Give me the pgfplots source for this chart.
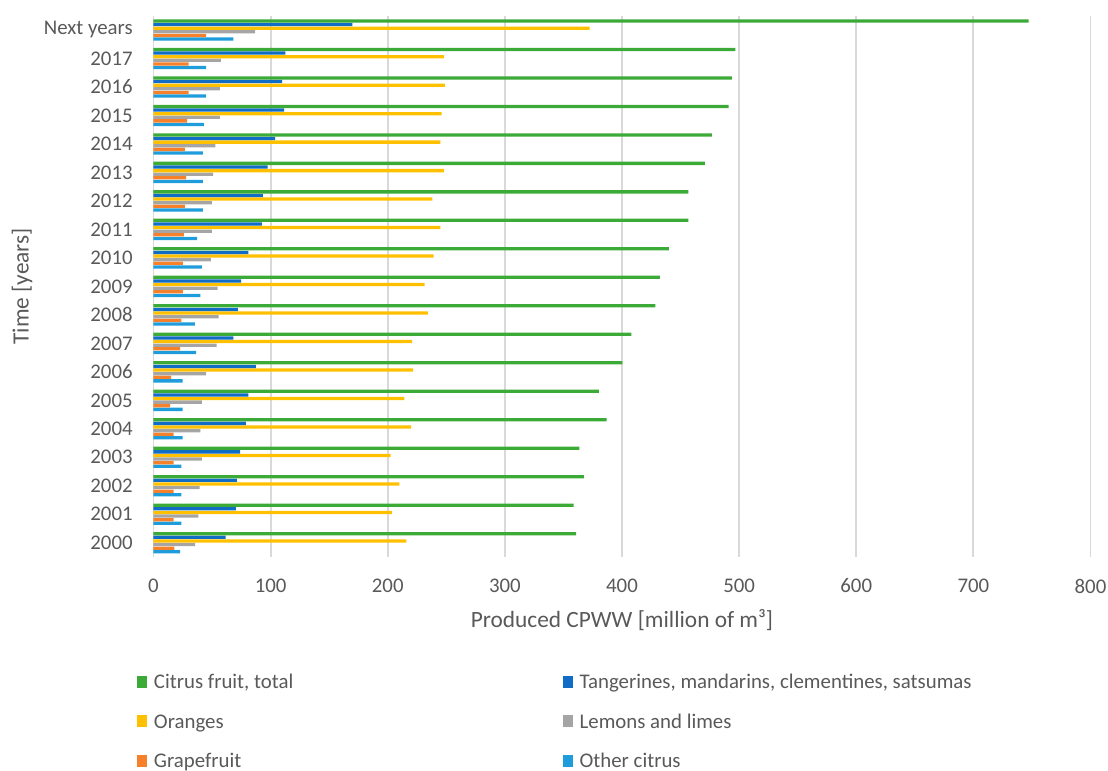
\documentclass[border=0pt]{standalone}
\usepackage{fontspec}
\setmainfont{Carlito}
\usepackage{pgfplots}
\pgfplotsset{compat=1.18}
\usepackage{pgfplotstable}
\definecolor{ctotal}{RGB}{60,170,55}
\definecolor{ctang}{RGB}{16,108,196}
\definecolor{corange}{RGB}{255,192,0}
\definecolor{clemon}{RGB}{165,165,165}
\definecolor{cgrape}{RGB}{247,129,42}
\definecolor{cother}{RGB}{30,156,219}
\definecolor{textgray}{RGB}{89,89,89}
\definecolor{gridgray}{RGB}{217,217,217}
\pgfplotstableread{
y total tang orange lemon grape other
0 360.8 61.5 216.0 35.6 17.9 22.8
1 358.8 70.3 203.5 38.4 17.1 23.9
2 367.4 71.2 210.0 39.3 17.1 23.9
3 363.7 74.0 202.4 41.3 17.1 23.9
4 386.8 78.9 220.0 40.1 17.1 24.8
5 380.2 80.9 214.1 41.3 14.2 24.8
6 400.4 87.4 221.7 45.0 15.1 24.8
7 408.1 68.3 220.9 53.8 22.8 36.4
8 428.4 72.0 234.3 55.5 23.9 35.3
9 432.3 74.9 231.4 54.7 25.0 40.1
10 440.0 80.9 239.1 48.9 25.0 41.3
11 456.6 92.5 245.0 49.8 25.9 37.3
12 456.6 93.4 238.0 49.8 26.8 42.1
13 470.8 97.4 248.0 51.0 27.9 42.1
14 476.8 103.9 245.0 52.9 26.8 42.1
15 491.0 111.6 246.0 56.6 28.8 43.0
16 493.9 109.9 248.8 56.6 29.9 45.0
17 496.7 112.7 248.0 57.5 29.9 45.0
18 747.2 169.7 372.4 86.8 45.0 68.3
}\citrus
\begin{document}
\begin{tikzpicture}
\useasboundingbox (-92.1pt,-128.4pt) rectangle (572.7pt,334.2pt);
\begin{axis}[
  at={(0pt,0pt)}, anchor=south west,
  scale only axis, width=562.2pt, height=324.75pt,
  xbar, bar width=0.115,
  xmin=0, xmax=800, ymin=-0.5, ymax=18.5,
  xtick={0,100,...,800},
  ytick={0,...,18},
  yticklabels={2000,2001,2002,2003,2004,2005,2006,2007,2008,2009,2010,2011,2012,2013,2014,2015,2016,2017,Next years},
  major tick length=0pt,
  axis line style={draw=none},
  xmajorgrids, grid style={color=gridgray, line width=1.1pt},
  /pgf/number format/assume math mode=true,
  tick label style={font=\fontsize{12.5}{15}\selectfont, text=textgray},
  y tick label style={anchor=east, inner sep=0pt, xshift=-12.3pt},
  x tick label style={anchor=north, inner sep=0pt, yshift=-12.9pt},
  xlabel={Produced CPWW [million of m³]},
  xlabel style={at={(axis description cs:0.5,-0.1164)}, anchor=center, font=\fontsize{14}{17}\selectfont, text=textgray},
  ylabel={Time [years]},
  ylabel style={at={(axis description cs:-0.1403,0.5)}, anchor=center, font=\fontsize{14}{17}\selectfont, text=textgray},
  legend columns=2, reverse legend, legend cell align=left,
  legend style={at={(axis description cs:0,0)}, anchor=north west, xshift=-9.9pt, yshift=-70.0pt,
    draw=none, fill=none, inner sep=0pt, column sep=4pt, row sep=11.7pt,
    font=\fontsize{12.5}{15}\selectfont, text=textgray,
    nodes={inner sep=0pt, text height=9pt, text depth=3pt}},
  legend image code/.code={\fill[#1] (0pt,-2.2pt) rectangle (6pt,5pt);},
]
\addplot[fill=cother, draw=none, bar shift=-0.3175] table[x=other, y=y] {\citrus};
\addlegendentry{Other citrus}
\addplot[fill=cgrape, draw=none, bar shift=-0.1905] table[x=grape, y=y] {\citrus};
\addlegendentry{\makebox[241.4pt][l]{Grapefruit}}
\addplot[fill=clemon, draw=none, bar shift=-0.0635] table[x=lemon, y=y] {\citrus};
\addlegendentry{Lemons and limes}
\addplot[fill=corange, draw=none, bar shift=0.0635] table[x=orange, y=y] {\citrus};
\addlegendentry{\makebox[241.4pt][l]{Oranges}}
\addplot[fill=ctang, draw=none, bar shift=0.1905] table[x=tang, y=y] {\citrus};
\addlegendentry{Tangerines, mandarins, clementines, satsumas}
\addplot[fill=ctotal, draw=none, bar shift=0.3175] table[x=total, y=y] {\citrus};
\addlegendentry{\makebox[241.4pt][l]{Citrus fruit, total}}
\end{axis}
\end{tikzpicture}
\end{document}
